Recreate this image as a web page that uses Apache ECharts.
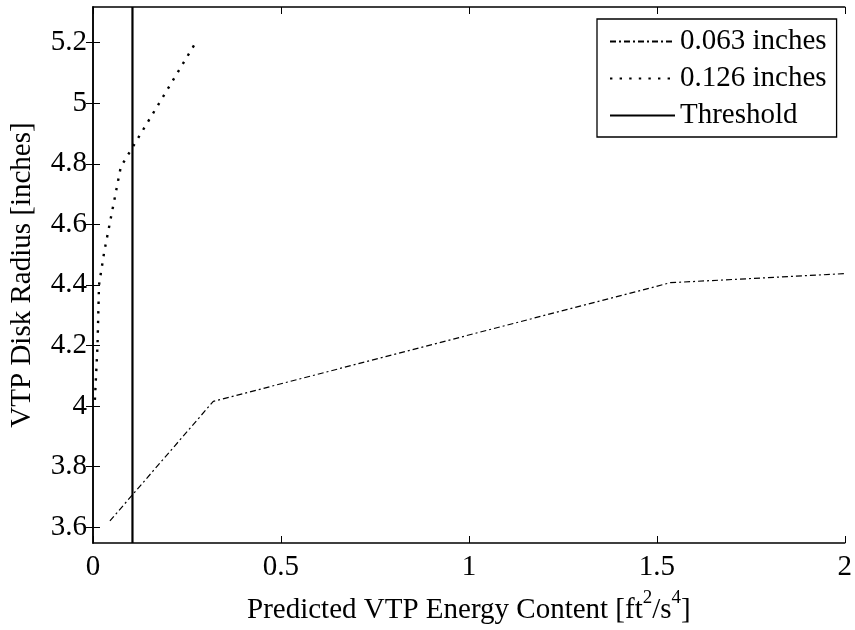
<!DOCTYPE html>
<html>
<head>
<meta charset="utf-8">
<script src="https://cdn.jsdelivr.net/npm/echarts@6/dist/echarts.min.js"></script>
<style>
html,body{margin:0;padding:0;background:#fff;}
#chart{width:855px;height:630px;}
</style>
</head>
<body>
<div id="chart"></div>
<script>
// 0.063 inches
var series063 = [[0.045, 3.62], [0.32, 4.015], [1.536, 4.407], [2.0, 4.437]];
// 0.126 inches
var series126 = [[0.005, 4.02], [0.012, 4.2], [0.016, 4.4], [0.03, 4.51], [0.074, 4.79], [0.273, 5.2]];
// threshold
var thresholdX = 0.105;
var yMin = 3.547, yMax = 5.318;
var yTicks = [3.6, 3.8, 4, 4.2, 4.4, 4.6, 4.8, 5, 5.2];
var xTicks = [0, 0.5, 1, 1.5, 2];

var font = "'Liberation Serif', 'Times New Roman', serif";
var fs = 29;
var chart = echarts.init(document.getElementById("chart"));

var tickStyle = {inside: true, length: 7, lineStyle: {color: '#000', width: 1}};
var lineAxis = {show: true, lineStyle: {color: '#000', width: 1.5}};

var option = {
	animation: false,
	grid: {left: 92, right: 8, top: 7, bottom: 85},
	legend: {
		orient: 'vertical',
		left: 597, top: 19,
		padding: [8, 10, 7, 12],
		itemGap: 8,
		itemWidth: 65,
		itemHeight: 14,
		borderColor: '#000',
		borderWidth: 1.3,
		backgroundColor: '#fff',
		itemStyle: {color: 'rgba(0,0,0,0)', borderWidth: 0, opacity: 0},
		textStyle: {fontFamily: font, fontSize: fs, color: '#000'},
		data: ['0.063 inches', '0.126 inches', 'Threshold']
	},
	xAxis: [{
		type: 'value', min: 0, max: 2, interval: 0.5,
		axisLine: lineAxis,
		axisTick: tickStyle,
		splitLine: {show: false},
		axisLabel: {fontFamily: font, fontSize: fs, color: '#000', margin: 10},
		name: '{n|Predicted VTP Energy Content [ft}{s|2}{n|/s}{s|4}{n|]}',
		nameLocation: 'middle', nameGap: 46,
		nameTextStyle: {
			rich: {
				n: {fontFamily: font, fontSize: fs, color: '#000', verticalAlign: 'bottom', lineHeight: 36},
				s: {fontFamily: font, fontSize: 19, color: '#000', verticalAlign: 'top', lineHeight: 36}
			}
		}
	}, {
		type: 'value', min: 0, max: 2, interval: 0.5, position: 'top',
		axisLine: lineAxis, axisTick: tickStyle,
		axisLabel: {show: false}, splitLine: {show: false}
	}],
	yAxis: [{
		type: 'value', min: yMin, max: yMax,
		axisLine: lineAxis,
		axisTick: Object.assign({customValues: yTicks}, tickStyle),
		splitLine: {show: false},
		axisLabel: {customValues: yTicks, fontFamily: font, fontSize: fs, color: '#000', margin: 6},
		name: 'VTP Disk Radius [inches]',
		nameLocation: 'middle', nameGap: 56,
		nameTextStyle: {fontFamily: font, fontSize: fs, color: '#000'}
	}, {
		type: 'value', min: yMin, max: yMax, position: 'right',
		axisLine: lineAxis,
		axisTick: Object.assign({customValues: yTicks}, tickStyle),
		axisLabel: {show: false}, splitLine: {show: false}
	}],
	series: [{
		name: '0.063 inches', type: 'line', data: series063,
		symbol: 'none', color: '#000',
		lineStyle: {color: '#000', width: 1.2, type: [6, 3, 2, 3]}
	}, {
		name: '0.126 inches', type: 'line', data: series126,
		symbol: 'none', color: '#000',
		lineStyle: {color: '#000', width: 2.4, type: [2.4, 7.2]}
	}, {
		name: 'Threshold', type: 'line',
		data: [[thresholdX, yMin], [thresholdX, yMax]],
		symbol: 'none', color: '#000',
		lineStyle: {color: '#000', width: 2.2, type: 'solid'}
	}]
};
chart.setOption(option);
</script>
</body>
</html>
